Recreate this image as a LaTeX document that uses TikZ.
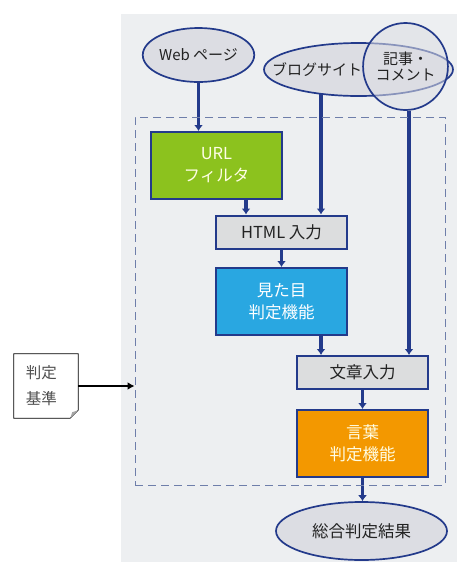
\documentclass[tikz,border=0pt]{standalone}
\usepackage{fontspec}
\setmainfont{Noto Sans CJK JP}
\usetikzlibrary{shapes.geometric,arrows.meta}
\definecolor{navy}{HTML}{233A8B}
\definecolor{bggray}{HTML}{EDEFF1}
\definecolor{ellfill}{HTML}{DCDDE3}
\definecolor{boxgray}{HTML}{DCDDDE}
\definecolor{urlgreen}{HTML}{8CC21E}
\definecolor{lookblue}{HTML}{29A7E1}
\definecolor{wordorange}{HTML}{F39800}
\definecolor{dashcol}{HTML}{6E7EAA}
\definecolor{txt}{HTML}{222222}
\pgfdeclarelayer{back}
\pgfdeclarelayer{conn}
\pgfsetlayers{back,conn,main}
\tikzset{
  ell/.style={ellipse, draw=navy, line width=1.7pt, fill=ellfill, inner sep=0pt, text=txt, align=center, font=\fontsize{15}{16}\selectfont},
  procbox/.style={rectangle, draw=navy, line width=2pt, inner sep=0pt, minimum width=131pt, align=center, font=\fontsize{16.5}{22}\selectfont},
  inbox/.style={procbox, fill=boxgray, text=txt, minimum height=33pt},
  funcbox/.style={procbox, minimum height=67pt},
  frame/.style={rectangle, draw=dashcol, line width=1pt, dash pattern=on 8pt off 5pt},
  arr/.style={draw=navy, line width=3.2pt, -{Latex[length=6pt,width=9pt]}},
  blackarr/.style={draw=black, line width=1.8pt, -{Latex[length=7pt,width=8pt]}},
  docnode/.style={rectangle, minimum width=64pt, minimum height=64pt, inner sep=0pt, text width=40pt, align=left, text=txt!80, font=\fontsize{15.5}{26}\selectfont},
}
\begin{document}
\begin{tikzpicture}[x=1pt,y=-1pt]
\useasboundingbox (0,0) rectangle (467,574);
\begin{pgfonlayer}{back}
\fill[bggray] (121,14) rectangle (457,562);
\end{pgfonlayer}
% frame
\node[frame, minimum width=310pt, minimum height=368pt] (frame) at (290,301) {};
% inputs
\node[ell, minimum width=93pt, minimum height=54pt] (web) at (198.5,55) {Web ページ};
\node[ell, minimum width=189pt, minimum height=53pt] (blog) at (358.5,69.5) {};
\node[text=txt, font=\fontsize{15}{16}\selectfont] (blogtxt) at (317,70) {ブログサイト};
\node[ell, fill opacity=0.55, text opacity=1, minimum width=79pt, minimum height=87pt] (comment) at (405.5,66.5) {記事・\\コメント};
% boxes
\node[funcbox, fill=urlgreen, text=white!90!yellow] (url) at (216.5,165.5) {URL\\フィルタ};
\node[inbox] (html) at (281.5,232) {HTML 入力};
\node[funcbox, fill=lookblue, text=white] (look) at (281.5,301.5) {見た目\\判定機能};
\node[inbox] (text) at (362.5,372.5) {文章入力};
\node[funcbox, fill=wordorange, text=white!90!yellow] (word) at (362.5,443.5) {言葉\\判定機能};
\node[ell, minimum width=171pt, minimum height=58pt, font=\fontsize{16.5}{18}\selectfont] (result) at (361.5,531) {総合判定結果};
% document
\node[docnode] (doc) at (46,386) {};
\draw[line width=0.8pt, fill=white] (doc.north west) -- (doc.north east) -- ([yshift=8pt]doc.south east) -- ([xshift=-8pt]doc.south east) -- (doc.south west) -- cycle;
\fill[gray!70] ([yshift=8pt]doc.south east) -- ([xshift=-8pt]doc.south east) -- ([xshift=-6pt,yshift=6pt]doc.south east) -- cycle;
\node[docnode] (doctxt) at (doc.center) {判定\\基準};
% connectors
\coordinate (bs) at (321,90);
\begin{pgfonlayer}{conn}
\draw[arr] (web.south) -- (web.south |- url.north);
\draw[arr] (bs) -- (bs |- html.north);
\draw[arr] ([xshift=3.5pt]comment.south) -- ([xshift=3.5pt]comment.south |- text.north);
\draw[arr] ([xshift=29.5pt]url.south) -- ([xshift=29.5pt]url.south |- html.north);
\draw[arr] (html.south) -- (look.north);
\draw[arr] (look.south -| bs) -- (bs |- text.north);
\draw[arr] (text.south) -- (word.north);
\draw[arr] (word.south) -- (word.south |- result.north);
\end{pgfonlayer}
\draw[blackarr] (doc.east) -- (doc.east -| frame.west);
\end{tikzpicture}
\end{document}
